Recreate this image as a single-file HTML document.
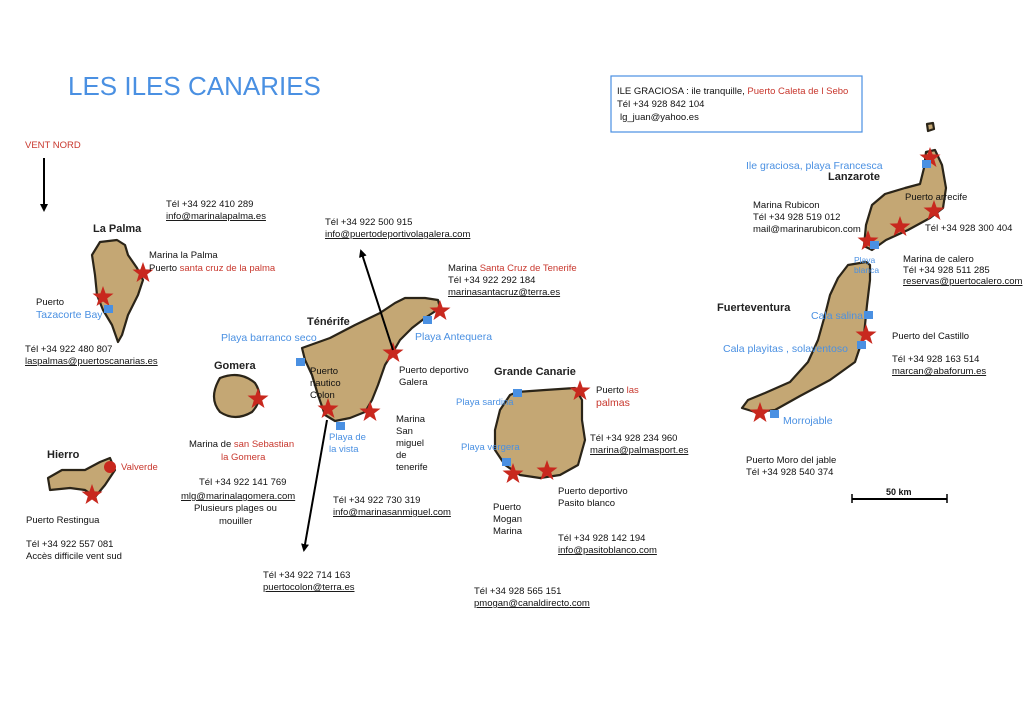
<!DOCTYPE html>
<html><head><meta charset="utf-8"><style>
html,body{margin:0;padding:0;background:#fff;}
svg{display:block;font-family:"Liberation Sans",sans-serif;}
.t{font-size:9.5px;fill:#111;}
.r{fill:#c8372d;}
.b{fill:#4a90e2;}
.u{text-decoration:underline;}
.isl{fill:#c4a774;stroke:#2a2418;stroke-width:2.2;stroke-linejoin:round;}
.n{font-size:11px;font-weight:bold;fill:#222;}
</style></head><body>
<svg width="1024" height="724" viewBox="0 0 1024 724">
<defs>
<polygon id="st" points="0,-11 2.6,-3.6 10.5,-3.4 4.2,1.4 6.5,9 0,4.5 -6.5,9 -4.2,1.4 -10.5,-3.4 -2.6,-3.6" fill="#c8281e"/>
<marker id="ah" markerWidth="8" markerHeight="8" refX="6" refY="4" orient="auto" markerUnits="userSpaceOnUse"><path d="M0,0 L8,4 L0,8 Z" fill="#000"/></marker>
</defs>
<text x="68" y="95" font-size="26" fill="#4a90e2">LES ILES CANARIES</text>
<text x="25" y="148" font-size="9.5" class="r">VENT NORD</text>
<line x1="44" y1="158" x2="44" y2="210" stroke="#000" stroke-width="2" marker-end="url(#ah)"/>

<rect x="611" y="76" width="251" height="56" fill="none" stroke="#4a90e2" stroke-width="1.2"/>
<text x="617" y="94" class="t">ILE GRACIOSA : ile tranquille, <tspan class="r">Puerto Caleta de l Sebo</tspan></text>
<text x="617" y="107" class="t">Tél +34 928 842 104</text>
<text x="620" y="120" class="t">lg_juan@yahoo.es</text>

<!-- La Palma -->
<polygon class="isl" points="117,240 100,242 92,255 95,275 97,295 103,310 112,325 118,342 122,335 128,315 138,295 143,280 137,268 128,255 125,245"/>
<use href="#st" x="143" y="273"/><use href="#st" x="103" y="297"/>
<rect x="104" y="305" width="9" height="8" fill="#4a90e2"/>
<text x="93" y="232" class="n">La Palma</text>
<text x="166" y="207" class="t">Tél +34 922 410 289</text>
<text x="166" y="219" class="t u">info@marinalapalma.es</text>
<text x="149" y="258" class="t" font-size="10.5">Marina la Palma</text>
<text x="149" y="271" class="t" font-size="10.5">Puerto <tspan class="r">santa cruz de la palma</tspan></text>
<text x="36" y="305" class="t" font-size="10.5">Puerto</text>
<text x="36" y="318" class="b" font-size="10.5">Tazacorte Bay</text>
<text x="25" y="352" class="t">Tél +34 922 480 807</text>
<text x="25" y="364" class="t u">laspalmas@puertoscanarias.es</text>

<!-- Gomera -->
<path class="isl" d="M220,378 Q240,370 255,383 Q265,398 252,412 Q235,422 220,412 Q208,398 220,378Z"/>
<use href="#st" x="258" y="399"/>
<text x="214" y="369" class="n">Gomera</text>
<text x="189" y="447" class="t">Marina de <tspan class="r">san Sebastian</tspan></text>
<text x="221" y="460" class="r" font-size="9.5">la Gomera</text>
<text x="199" y="485" class="t">Tél +34 922 141 769</text>
<text x="181" y="499" class="t u">mlg@marinalagomera.com</text>
<text x="194" y="511" class="t">Plusieurs plages ou</text>
<text x="219" y="524" class="t">mouiller</text>

<!-- Hierro -->
<polygon class="isl" points="48,478 62,470 85,470 100,462 110,458 115,470 105,485 95,497 85,490 70,488 50,490"/>
<circle cx="110" cy="467" r="6" fill="#c8281e"/>
<use href="#st" x="92" y="495"/>
<text x="47" y="458" class="n">Hierro</text>
<text x="121" y="470" class="r" font-size="9.5">Valverde</text>
<text x="26" y="523" class="t">Puerto Restingua</text>
<text x="26" y="547" class="t">Tél +34 922 557 081</text>
<text x="26" y="559" class="t">Accès difficile vent sud</text>

<!-- Tenerife -->
<polygon class="isl" points="302,348 330,338 355,325 380,313 395,303 405,298 425,298 438,300 440,308 425,318 412,328 400,340 393,352 385,365 378,385 372,400 365,412 350,418 335,421 325,415 318,395 312,375 305,360"/>
<use href="#st" x="440" y="311"/><use href="#st" x="393" y="353"/><use href="#st" x="328" y="409"/><use href="#st" x="370" y="412"/>
<rect x="296" y="358" width="9" height="8" fill="#4a90e2"/>
<rect x="423" y="316" width="9" height="8" fill="#4a90e2"/>
<rect x="336" y="422" width="9" height="8" fill="#4a90e2"/>
<text x="307" y="325" class="n">Ténérife</text>
<text x="221" y="341" class="b" font-size="10.5">Playa barranco seco</text>
<text x="415" y="340" class="b" font-size="10.5">Playa Antequera</text>
<text x="310" y="374" class="t">Puerto</text>
<text x="310" y="386" class="t">nautico</text>
<text x="310" y="398" class="t">Colon</text>
<text x="399" y="373" class="t">Puerto deportivo</text>
<text x="399" y="385" class="t">Galera</text>
<text x="329" y="440" class="b" font-size="9.5">Playa de</text>
<text x="329" y="452" class="b" font-size="9.5">la vista</text>
<text x="396" y="422" class="t">Marina</text>
<text x="396" y="434" class="t">San</text>
<text x="396" y="446" class="t">miguel</text>
<text x="396" y="458" class="t">de</text>
<text x="396" y="470" class="t">tenerife</text>
<text x="325" y="225" class="t">Tél +34 922 500 915</text>
<text x="325" y="237" class="t u">info@puertodeportivolagalera.com</text>
<line x1="393" y1="350" x2="361" y2="251" stroke="#000" stroke-width="2" marker-end="url(#ah)"/>
<line x1="327" y1="420" x2="304" y2="550" stroke="#000" stroke-width="2" marker-end="url(#ah)"/>
<text x="333" y="503" class="t">Tél +34 922 730 319</text>
<text x="333" y="515" class="t u">info@marinasanmiguel.com</text>
<text x="263" y="578" class="t">Tél +34 922 714 163</text>
<text x="263" y="590" class="t u">puertocolon@terra.es</text>
<text x="448" y="271" class="t">Marina <tspan class="r">Santa Cruz de Tenerife</tspan></text>
<text x="448" y="283" class="t">Tél +34 922 292 184</text>
<text x="448" y="295" class="t u">marinasantacruz@terra.es</text>

<!-- Gran Canaria -->
<polygon class="isl" points="517,392 545,390 575,388 582,400 582,420 585,440 578,465 560,475 540,478 520,475 505,465 495,450 495,430 500,410 510,395"/>
<use href="#st" x="580" y="391"/><use href="#st" x="513" y="474"/><use href="#st" x="547" y="471"/>
<rect x="513" y="389" width="9" height="8" fill="#4a90e2"/>
<rect x="502" y="458" width="9" height="8" fill="#4a90e2"/>
<text x="494" y="375" class="n">Grande Canarie</text>
<text x="596" y="393" class="t" font-size="10.5">Puerto <tspan class="r">las</tspan></text>
<text x="596" y="406" class="r" font-size="10.5">palmas</text>
<text x="456" y="405" class="b" font-size="9.5">Playa sardina</text>
<text x="461" y="450" class="b" font-size="9.5">Playa vergera</text>
<text x="590" y="441" class="t">Tél +34 928 234 960</text>
<text x="590" y="453" class="t u">marina@palmasport.es</text>
<text x="558" y="494" class="t">Puerto deportivo</text>
<text x="558" y="506" class="t">Pasito blanco</text>
<text x="493" y="510" class="t">Puerto</text>
<text x="493" y="522" class="t">Mogan</text>
<text x="493" y="534" class="t">Marina</text>
<text x="558" y="541" class="t">Tél +34 928 142 194</text>
<text x="558" y="553" class="t u">info@pasitoblanco.com</text>
<text x="474" y="594" class="t">Tél +34 928 565 151</text>
<text x="474" y="606" class="t u">pmogan@canaldirecto.com</text>

<!-- Lanzarote -->
<path class="isl" d="M927,124 l6,-1 l1,6 l-6,2 z"/>
<polygon class="isl" points="864,246 866,225 872,205 885,194 905,188 920,184 924,168 926,152 935,150 942,165 946,188 943,208 930,218 908,230 886,240 872,250"/>
<use href="#st" x="868" y="241"/><use href="#st" x="900" y="227"/><use href="#st" x="934" y="211"/><use href="#st" x="930" y="158"/>
<rect x="870" y="241" width="9" height="8" fill="#4a90e2"/>
<rect x="922" y="160" width="9" height="8" fill="#4a90e2"/>
<text x="746" y="169" class="b" font-size="10.5">Ile graciosa, playa Francesca</text>
<text x="828" y="180" class="n">Lanzarote</text>
<text x="753" y="208" class="t">Marina Rubicon</text>
<text x="753" y="220" class="t">Tél +34 928 519 012</text>
<text x="753" y="232" class="t">mail@marinarubicon.com</text>
<text x="905" y="200" class="t" font-size="10.5">Puerto arrecife</text>
<text x="925" y="231" class="t" font-size="8">Tél +34 928 300 404</text>
<text x="903" y="262" class="t">Marina de calero</text>
<text x="903" y="273" class="t" font-size="8">Tél +34 928 511 285</text>
<text x="903" y="284" class="t u" font-size="8">reservas@puertocalero.com</text>

<!-- Fuerteventura -->
<polygon class="isl" points="866,262 848,265 838,278 830,295 825,315 818,340 808,362 790,382 765,393 748,400 742,408 755,412 775,410 800,396 830,380 855,362 864,335 867,305 870,280 870,265"/>
<use href="#st" x="866" y="335"/><use href="#st" x="760" y="413"/>
<rect x="864" y="311" width="9" height="8" fill="#4a90e2"/>
<rect x="857" y="341" width="9" height="8" fill="#4a90e2"/>
<rect x="770" y="410" width="9" height="8" fill="#4a90e2"/>
<text x="854" y="263" class="b" font-size="8.5">Playa</text>
<text x="854" y="273" class="b" font-size="8.5">blanca</text>
<text x="717" y="311" class="n">Fuerteventura</text>
<text x="811" y="319" class="b" font-size="10.5">Cala salina</text>
<text x="723" y="352" class="b" font-size="10.5">Cala playitas , solaventoso</text>
<text x="892" y="339" class="t">Puerto del Castillo</text>
<text x="892" y="362" class="t">Tél +34 928 163 514</text>
<text x="892" y="374" class="t u">marcan@abaforum.es</text>
<text x="783" y="424" class="b" font-size="10.5">Morrojable</text>
<text x="746" y="463" class="t">Puerto Moro del jable</text>
<text x="746" y="475" class="t">Tél +34 928 540 374</text>

<text x="886" y="495" font-size="9" font-weight="bold" fill="#111">50 km</text>
<line x1="852" y1="499" x2="947" y2="499" stroke="#000" stroke-width="2"/>
<line x1="852" y1="494" x2="852" y2="503" stroke="#000" stroke-width="1.5"/>
<line x1="947" y1="494" x2="947" y2="503" stroke="#000" stroke-width="1.5"/>
</svg>
</body></html>
